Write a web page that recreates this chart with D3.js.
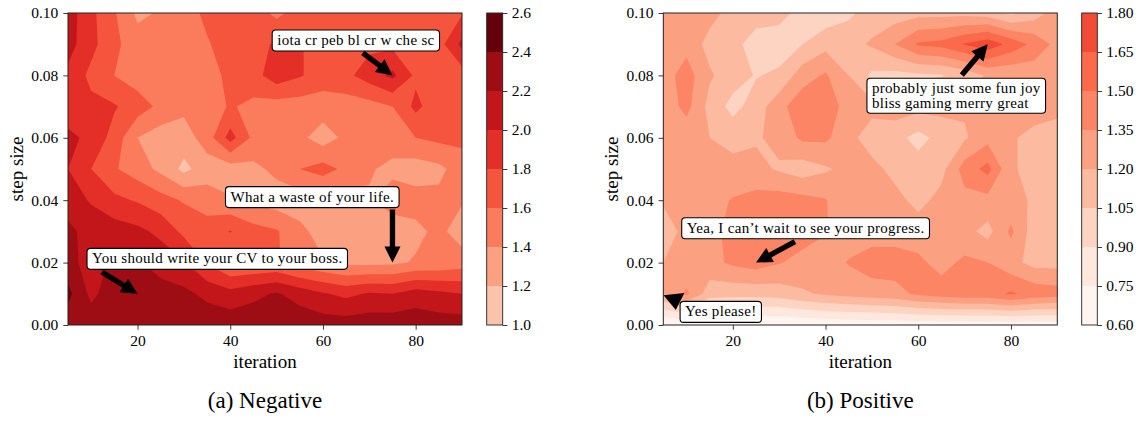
<!DOCTYPE html>
<html>
<head>
<meta charset="utf-8">
<script src="https://cdn.jsdelivr.net/npm/d3@7"></script>
<style>
  body { margin: 0; background: #fff; }
  text { font-family: "Liberation Serif", "Times New Roman", serif; fill: #000; }
</style>
</head>
<body>
<svg id="fig" width="1140" height="421"></svg>
<script>
// grid axes
const iterations = [5, 10, 15, 20, 25, 30, 35, 40, 45, 50, 55, 60, 65, 70, 75, 80, 85, 90];
const stepSizes = [0.00, 0.01, 0.02, 0.03, 0.04, 0.05, 0.06, 0.07, 0.08, 0.09, 0.10];

const xTicks = [20, 40, 60, 80];
const yTicks = [0.00, 0.02, 0.04, 0.06, 0.08, 0.10];

const negLevels = [1.0, 1.2, 1.4, 1.6, 1.8, 2.0, 2.2, 2.4, 2.6];
const posLevels = [0.60, 0.75, 0.90, 1.05, 1.20, 1.35, 1.50, 1.65, 1.80];

// rows go from step size 0.10 (top) down to 0.00 (bottom)
const negative = [
  [2.10, 1.85, 1.62, 1.36, 1.42, 1.50, 1.65, 1.70, 1.70, 1.55, 1.68, 1.70, 1.72, 1.70, 1.70, 1.70, 1.75, 1.78],
  [2.08, 1.86, 1.65, 1.48, 1.45, 1.45, 1.58, 1.70, 1.75, 1.82, 1.82, 1.70, 1.70, 1.75, 1.75, 1.72, 1.72, 2.05],
  [1.95, 1.75, 1.60, 1.50, 1.45, 1.45, 1.52, 1.65, 1.72, 1.92, 1.82, 1.70, 1.75, 1.90, 2.05, 1.76, 1.70, 1.70],
  [1.88, 1.85, 1.82, 1.70, 1.55, 1.45, 1.50, 1.62, 1.55, 1.50, 1.50, 1.50, 1.50, 1.52, 1.60, 1.85, 1.68, 1.68],
  [2.05, 1.95, 1.72, 1.40, 1.30, 1.30, 1.50, 1.88, 1.55, 1.45, 1.45, 1.30, 1.45, 1.45, 1.50, 1.60, 1.65, 1.65],
  [2.00, 1.80, 1.62, 1.50, 1.35, 1.15, 1.30, 1.30, 1.35, 1.45, 1.60, 1.68, 1.55, 1.42, 1.35, 1.30, 1.35, 1.50],
  [2.10, 1.98, 1.85, 1.78, 1.68, 1.58, 1.50, 1.42, 1.35, 1.30, 1.30, 1.32, 1.35, 1.38, 1.50, 1.48, 1.45, 1.42],
  [2.25, 2.12, 2.10, 2.05, 1.95, 1.75, 1.70, 1.81, 1.68, 1.62, 1.45, 1.32, 1.30, 1.30, 1.28, 1.35, 1.45, 1.30],
  [2.30, 2.08, 2.25, 2.22, 2.12, 2.02, 1.78, 1.58, 1.60, 1.62, 1.50, 1.42, 1.35, 1.35, 1.36, 1.42, 1.45, 1.50],
  [2.45, 2.15, 2.32, 2.32, 2.28, 2.25, 2.15, 2.07, 2.15, 2.22, 2.12, 2.02, 1.95, 2.02, 2.00, 2.10, 2.05, 2.00],
  [2.30, 2.32, 2.33, 2.35, 2.35, 2.35, 2.33, 2.33, 2.33, 2.35, 2.33, 2.30, 2.30, 2.32, 2.33, 2.32, 2.30, 2.30]
];

const positive = [
  [1.28, 1.30, 1.25, 1.15, 1.12, 1.10, 1.00, 0.95, 1.02, 1.12, 1.12, 1.15, 1.15, 1.15, 1.12, 1.02, 1.12, 1.28],
  [1.28, 1.30, 1.15, 1.10, 0.98, 0.97, 1.05, 1.15, 1.15, 1.22, 1.35, 1.52, 1.55, 1.66, 1.75, 1.60, 1.46, 1.30],
  [1.28, 1.42, 1.22, 1.12, 1.04, 1.08, 1.28, 1.37, 1.20, 1.02, 1.00, 1.02, 1.04, 1.10, 1.22, 1.22, 1.25, 1.30],
  [1.25, 1.40, 1.15, 1.00, 1.12, 1.30, 1.45, 1.45, 1.28, 1.25, 1.28, 1.25, 1.25, 1.22, 1.25, 1.25, 1.28, 1.25],
  [1.22, 1.25, 1.20, 1.15, 1.18, 1.25, 1.38, 1.38, 1.25, 1.12, 1.10, 1.00, 1.10, 1.18, 1.30, 1.22, 1.15, 1.12],
  [1.25, 1.28, 1.28, 1.25, 1.25, 1.18, 1.12, 1.18, 1.25, 1.25, 1.15, 1.12, 1.15, 1.42, 1.55, 1.22, 1.15, 1.12],
  [1.22, 1.30, 1.30, 1.36, 1.40, 1.42, 1.40, 1.36, 1.22, 1.22, 1.25, 1.15, 1.25, 1.30, 1.30, 1.25, 1.18, 1.15],
  [1.12, 1.25, 1.30, 1.40, 1.45, 1.45, 1.42, 1.36, 1.28, 1.28, 1.28, 1.28, 1.28, 1.25, 1.15, 1.38, 1.12, 1.12],
  [1.20, 1.22, 1.30, 1.38, 1.42, 1.36, 1.30, 1.28, 1.36, 1.42, 1.42, 1.38, 1.30, 1.38, 1.35, 1.25, 1.15, 1.15],
  [1.20, 1.38, 1.12, 1.10, 1.10, 1.12, 1.18, 1.22, 1.25, 1.28, 1.30, 1.38, 1.42, 1.45, 1.45, 1.52, 1.45, 1.42],
  [0.60, 0.62, 0.60, 0.60, 0.60, 0.60, 0.62, 0.64, 0.65, 0.65, 0.66, 0.66, 0.66, 0.66, 0.66, 0.66, 0.66, 0.66]
];

// annotations: box centre, arrow tail and arrow tip, all in data units
const negNotes = [
  { lines: ['iota cr peb bl cr w che sc'], at: [67.1, 0.0912], from: [68.6, 0.0872], to: [75, 0.08] },
  { lines: ['What a waste of your life.'], at: [57.7, 0.041], from: [75, 0.037], to: [75, 0.02] },
  { lines: ['You should write your CV to your boss.'], at: [37.2, 0.0212], from: [12.3, 0.017], to: [20, 0.01] }
];
const posNotes = [
  { lines: ['probably just some fun joy', 'bliss gaming merry great'], at: [68.2, 0.0735], from: [69.4, 0.0801], to: [75, 0.09] },
  { lines: ['Yea, I can\u2019t wait to see your progress.'], at: [35.7, 0.031], from: [33.4, 0.0267], to: [25, 0.02] },
  { lines: ['Yes please!'], at: [17.4, 0.0042], from: [7.3, 0.0099], to: [7.7, 0.0048], headWidth: 21 }
];

// "Reds" colour map; each band takes the colour of its lower level,
// one norm shared by both panels
const reds = d3.scaleLinear()
  .domain(d3.range(9).map(i => i / 8))
  .range(d3.schemeReds[9]);
const norm = d3.scaleLinear().domain([0.6, 2.4]).range([0, 1]).clamp(true);
const colour = v => reds(norm(v));

const svg = d3.select('#fig');
svg.append('rect').attr('width', 1140).attr('height', 421).attr('fill', '#fff');

function arrowPath(x1, y1, x2, y2, hw) {
  const w = 5.33, hl = 16;
  const len = Math.hypot(x2 - x1, y2 - y1);
  const ux = (x2 - x1) / len, uy = (y2 - y1) / len;
  const nx = -uy, ny = ux;
  if (len <= hl + 0.5) {
    return `M${x1 + nx * hw / 2},${y1 + ny * hw / 2}L${x2},${y2}L${x1 - nx * hw / 2},${y1 - ny * hw / 2}Z`;
  }
  const bx = x2 - ux * hl, by = y2 - uy * hl;
  const p = [
    [x1 + nx * w / 2, y1 + ny * w / 2],
    [bx + nx * w / 2, by + ny * w / 2],
    [bx + nx * hw / 2, by + ny * hw / 2],
    [x2, y2],
    [bx - nx * hw / 2, by - ny * hw / 2],
    [bx - nx * w / 2, by - ny * w / 2],
    [x1 - nx * w / 2, y1 - ny * w / 2]
  ];
  return 'M' + p.map(d => d.join(',')).join('L') + 'Z';
}

function panel(opts) {
  const { grid, levels, notes, x0, x1, cb0, cb1, fmt, caption, id } = opts;
  const y0 = 13, y1 = 325;

  const x = d3.scaleLinear().domain([iterations[0], iterations[iterations.length - 1]]).range([x0, x1]);
  const y = d3.scaleLinear().domain([stepSizes[0], stepSizes[stepSizes.length - 1]]).range([y1, y0]);

  svg.append('clipPath').attr('id', 'clip' + id)
    .append('rect').attr('x', x0).attr('y', y0).attr('width', x1 - x0).attr('height', y1 - y0);

  const g = svg.append('g').attr('clip-path', `url(#clip${id})`);

  // filled contours
  const nx = iterations.length, ny = stepSizes.length;
  const values = grid.slice().reverse().flat();
  const dIt = iterations[1] - iterations[0];
  const dS = stepSizes[1] - stepSizes[0];
  const proj = d3.geoTransform({
    point(gx, gy) {
      this.stream.point(x(iterations[0] + (gx - 0.5) * dIt), y(stepSizes[0] + (gy - 0.5) * dS));
    }
  });
  const path = d3.geoPath(proj);
  const bands = d3.contours().size([nx, ny]).thresholds(levels.slice(0, -1))(values);

  g.append('rect').attr('x', x0).attr('y', y0).attr('width', x1 - x0).attr('height', y1 - y0)
    .attr('fill', colour(levels[0]));

  g.selectAll('path.band')
    .data(bands)
    .join('path')
      .attr('class', 'band')
      .attr('d', path)
      .attr('fill-rule', 'evenodd')
      .attr('fill', d => colour(d.value));

  // axes
  const xAxis = svg.append('g').attr('transform', `translate(0,${y1})`)
    .call(d3.axisBottom(x).tickValues(xTicks).tickSize(4.7).tickPadding(5.5).tickFormat(d3.format('d')));
  const yAxis = svg.append('g').attr('transform', `translate(${x0},0)`)
    .call(d3.axisLeft(y).tickValues(yTicks).tickSize(4.7).tickPadding(5).tickFormat(d3.format('.2f')));
  [xAxis, yAxis].forEach(a => {
    a.select('.domain').remove();
    a.selectAll('line').attr('stroke', '#222').attr('stroke-width', 0.9);
    a.selectAll('text').attr('font-size', 15.5).attr('font-family', '"Liberation Serif", serif');
  });

  svg.append('rect').attr('x', x0).attr('y', y0).attr('width', x1 - x0).attr('height', y1 - y0)
    .attr('fill', 'none').attr('stroke', '#222').attr('stroke-width', 1);

  svg.append('text')
    .attr('x', (x0 + x1) / 2).attr('y', 368)
    .attr('text-anchor', 'middle').attr('font-size', 19)
    .text('iteration');
  svg.append('text')
    .attr('transform', `translate(${x0 - 45.5},${(y0 + y1) / 2}) rotate(-90)`)
    .attr('text-anchor', 'middle').attr('font-size', 19)
    .text('step size');

  // colour bar
  const cy = d3.scaleLinear().domain([levels[0], levels[levels.length - 1]]).range([y1, y0]);
  svg.selectAll(null)
    .data(levels.slice(0, -1))
    .join('rect')
      .attr('x', cb0)
      .attr('width', cb1 - cb0)
      .attr('y', (d, i) => cy(levels[i + 1]))
      .attr('height', (d, i) => cy(d) - cy(levels[i + 1]))
      .attr('fill', d => colour(d));
  svg.append('rect').attr('x', cb0).attr('y', y0).attr('width', cb1 - cb0).attr('height', y1 - y0)
    .attr('fill', 'none').attr('stroke', '#222').attr('stroke-width', 0.9);
  const cAxis = svg.append('g').attr('transform', `translate(${cb1},0)`)
    .call(d3.axisRight(cy).tickValues(levels).tickSize(4.7).tickPadding(4.3).tickFormat(d3.format(fmt)));
  cAxis.select('.domain').remove();
  cAxis.selectAll('line').attr('stroke', '#222').attr('stroke-width', 0.9);
  cAxis.selectAll('text').attr('font-size', 15.5).attr('font-family', '"Liberation Serif", serif');

  // annotations
  const fs = 15, lineH = 14.5, padX = 5, padY = 3;
  notes.forEach(n => {
    const ag = svg.append('g');
    const tx = x(n.from[0]), ty = y(n.from[1]);
    const hx = x(n.to[0]), hy = y(n.to[1]);
    ag.append('path').attr('d', arrowPath(tx, ty, hx, hy, n.headWidth || 16)).attr('fill', '#000');

    const box = ag.append('rect').attr('fill', '#fff').attr('stroke', '#000').attr('stroke-width', 1.1)
      .attr('rx', 3.5).attr('ry', 3.5);
    const texts = n.lines.map(l => ag.append('text').attr('font-size', fs).attr('letter-spacing', 0.3).text(l));
    const w = d3.max(texts, t => t.node().getComputedTextLength()) + 2 * padX;
    const h = n.lines.length === 1 ? fs + 2 * padY : n.lines.length * lineH + 2 * padY;
    const cx = x(n.at[0]), cyy = y(n.at[1]);
    const left = cx - w / 2, top = cyy - h / 2;
    box.attr('x', left).attr('y', top).attr('width', w).attr('height', h);
    texts.forEach((t, i) => {
      t.attr('x', left + padX).attr('y', top + padY + i * lineH + fs * 0.8);
    });
  });

  svg.append('text')
    .attr('x', (x0 + x1) / 2).attr('y', 408)
    .attr('text-anchor', 'middle').attr('font-size', 23)
    .text(caption);
}

panel({ id: 'a', grid: negative, levels: negLevels, notes: negNotes,
  x0: 68, x1: 462, cb0: 486.7, cb1: 502.7, fmt: '.1f', caption: '(a) Negative' });
panel({ id: 'b', grid: positive, levels: posLevels, notes: posNotes,
  x0: 663.3, x1: 1057.3, cb0: 1081.7, cb1: 1097.3, fmt: '.2f', caption: '(b) Positive' });
</script>
</body>
</html>
